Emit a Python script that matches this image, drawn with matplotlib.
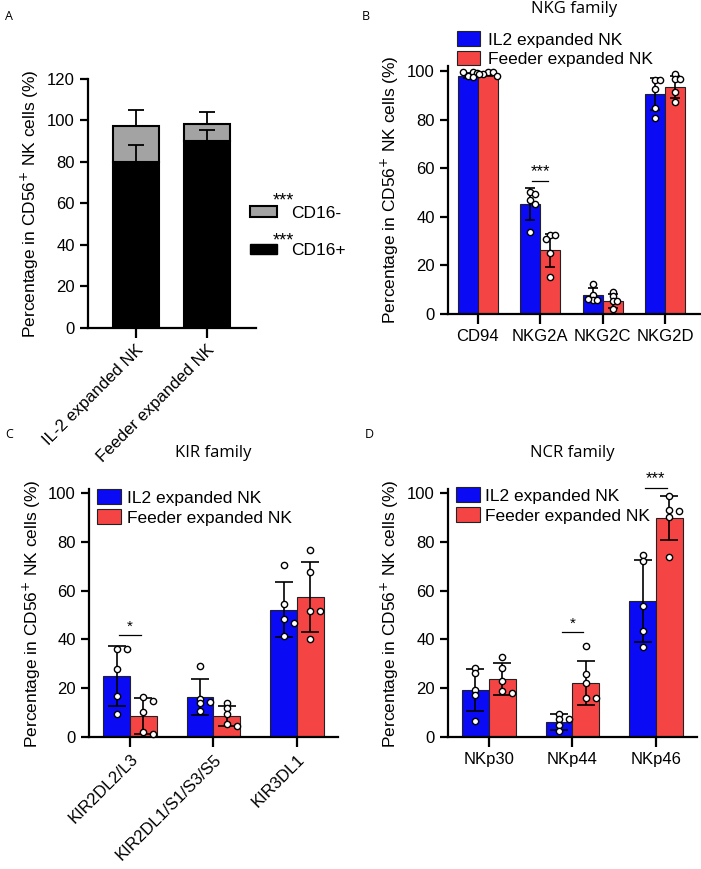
import numpy as np
import matplotlib.pyplot as plt
from matplotlib.patches import Patch

plt.rcParams['font.family'] = ['Liberation Sans', 'DejaVu Sans']
plt.rcParams['font.size'] = 12

# ---- panel A: CD16 split ----
a_groups = ['IL-2 expanded NK', 'Feeder expanded NK']
a_cd16pos = [80.0, 90.0]
a_cd16neg = [17.4, 8.3]
a_err_pos = [8.0, 5.5]
a_err_tot = [7.5, 5.8]

# ---- panel B: NKG family ----
b_cats = ['CD94', 'NKG2A', 'NKG2C', 'NKG2D']
b_il2_mean = [98.0, 45.2, 7.8, 90.5]
b_il2_sd = [1.0, 6.6, 2.7, 6.5]
b_fed_mean = [98.5, 26.2, 5.3, 93.3]
b_fed_sd = [0.8, 6.8, 2.9, 4.5]
b_il2_pts = [[98.0, 99.5, 99.5, 99.0, 97.5],
             [50.0, 49.2, 46.9, 45.3, 33.9],
             [12.4, 7.9, 5.9, 5.9, 6.2],
             [96.4, 96.4, 92.7, 84.7, 80.6]]
b_fed_pts = [[99.5, 99.5, 98.8, 97.8, 98.6],
             [32.3, 32.3, 30.9, 25.0, 15.2],
             [9.2, 7.3, 5.2, 5.2, 2.1],
             [98.6, 96.6, 96.6, 91.4, 87.3]]

# ---- panel C: KIR family ----
c_cats = ['KIR2DL2/L3', 'KIR2DL1/S1/S3/S5', 'KIR3DL1']
c_il2_mean = [25.0, 16.4, 52.2]
c_il2_sd = [12.2, 7.4, 11.3]
c_fed_mean = [8.6, 8.5, 57.4]
c_fed_sd = [7.3, 4.1, 14.5]
c_il2_pts = [[36.2, 36.2, 27.9, 16.7, 9.6],
             [29.2, 15.7, 14.3, 13.9, 10.5],
             [70.6, 54.4, 48.2, 46.7, 41.4]]
c_fed_pts = [[16.4, 14.8, 10.2, 1.9, 1.1],
             [14.1, 11.9, 9.6, 5.2, 4.4],
             [76.8, 67.6, 51.5, 51.5, 40.0]]

# ---- panel D: NCR family ----
d_cats = ['NKp30', 'NKp44', 'NKp46']
d_il2_mean = [19.1, 6.1, 55.9]
d_il2_sd = [8.6, 3.2, 16.8]
d_fed_mean = [23.9, 22.3, 89.8]
d_fed_sd = [6.6, 9.0, 9.1]
d_il2_pts = [[28.3, 26.2, 19.4, 17.3, 6.6],
             [9.6, 7.4, 7.4, 4.8, 2.3],
             [74.5, 72.0, 53.7, 43.4, 36.9]]
d_fed_pts = [[32.8, 28.4, 22.9, 18.9, 18.0],
             [37.4, 25.7, 22.1, 15.8, 15.8],
             [98.6, 93.0, 92.5, 90.2, 73.9]]

# significance marks: (category index, y, label)
b_sig = [(1, 54.9, '***')]
c_sig = [(0, 41.9, '*')]
d_sig = [(1, 43.0, '*'), (2, 102.2, '***')]

BLUE = '#0a0af5'
RED = '#f54444'
ylab = 'Percentage in CD56$^{+}$ NK cells (%)'


def style_axes(ax):
    for s in ['top', 'right']:
        ax.spines[s].set_visible(False)
    for s in ['left', 'bottom']:
        ax.spines[s].set_linewidth(1.6)
    ax.tick_params(width=1.6, length=6, labelsize=12)


def swarm(vals, xc, xstep, ystep):
    # simple beeswarm: spread points that would overlap
    placed = []
    xs = []
    for v in vals:
        for k in [0, 1, -1, 2, -2, 3, -3]:
            x = xc + k * xstep
            if all((abs(x - px) / xstep) ** 2 + ((v - py) / ystep) ** 2 >= 0.95 for px, py in placed):
                break
        placed.append((x, v))
        xs.append(x)
    return xs


def grouped(ax, cats, m1, s1, m2, s2, p1, p2, bw, capsize, xstep, ystep):
    x = np.arange(len(cats))
    ax.bar(x - bw / 2, m1, bw, color=BLUE, edgecolor='#222222', linewidth=0.8,
           label='IL2 expanded NK', zorder=2)
    ax.bar(x + bw / 2, m2, bw, color=RED, edgecolor='#222222', linewidth=0.8,
           label='Feeder expanded NK', zorder=2)
    ax.errorbar(x - bw / 2, m1, yerr=s1, fmt='none', ecolor='black', elinewidth=1.2,
                capsize=capsize, capthick=1.2, zorder=3)
    ax.errorbar(x + bw / 2, m2, yerr=s2, fmt='none', ecolor='black', elinewidth=1.2,
                capsize=capsize, capthick=1.2, zorder=3)
    for i in range(len(cats)):
        for pts, xc in [(p1[i], x[i] - bw / 2), (p2[i], x[i] + bw / 2)]:
            xs = swarm(pts, xc, xstep, ystep)
            ax.plot(xs, pts, 'o', ms=4.5, mfc='white', mec='black', mew=1.0,
                    zorder=4, clip_on=False)
    ax.set_xticks(x)
    return x


def sig(ax, marks, bw):
    for i, y, lab in marks:
        ax.plot([i - 0.4 * bw, i + 0.4 * bw], [y, y], color='black', lw=0.9, clip_on=False)
        fs = 12 if lab == '***' else 11
        ax.text(i, y + 0.6, lab, ha='center', va='bottom', fontsize=fs, clip_on=False)


fig = plt.figure(figsize=(7.01, 8.69), dpi=100)

# ---------- A ----------
axA = fig.add_axes([0.1255, 0.6226, 0.2397, 0.2865])
xa = np.arange(len(a_groups))
bwa = 0.65
axA.bar(xa, a_cd16pos, bwa, color='black', edgecolor='black', linewidth=1.5, zorder=2)
axA.bar(xa, a_cd16neg, bwa, bottom=a_cd16pos, color='#a3a3a3', edgecolor='black',
        linewidth=1.5, zorder=2)
axA.errorbar(xa, a_cd16pos, yerr=[np.zeros(2), a_err_pos], fmt='none', ecolor='black',
             elinewidth=1.3, capsize=6, capthick=1.3, zorder=3)
tot = np.array(a_cd16pos) + np.array(a_cd16neg)
axA.errorbar(xa, tot, yerr=[np.zeros(2), a_err_tot], fmt='none', ecolor='black',
             elinewidth=1.3, capsize=6, capthick=1.3, zorder=3)
axA.set_xlim(-0.676, 1.69)
axA.set_ylim(0, 120)
axA.set_yticks(range(0, 121, 20))
axA.set_xticks(xa)
axA.set_xticklabels(a_groups, rotation=45, ha='right', rotation_mode='anchor')
axA.set_ylabel(ylab, fontsize=12.5)
style_axes(axA)
axA.tick_params(axis='x', length=7)
hA = [Patch(facecolor='#a3a3a3', edgecolor='black', linewidth=1.5),
      Patch(facecolor='black', edgecolor='black')]
axA.legend(hA, ['CD16-', 'CD16+'], loc='center left', bbox_to_anchor=(0.964, 0.386),
           frameon=False, borderpad=0, borderaxespad=0, handlelength=1.55,
           handleheight=0.55, handletextpad=0.84, labelspacing=1.3, fontsize=12.5)
axA.text(1.16, 0.51, '***', transform=axA.transAxes, ha='center', va='center', fontsize=13)
axA.text(1.16, 0.35, '***', transform=axA.transAxes, ha='center', va='center', fontsize=13)

# ---------- B ----------
axB = fig.add_axes([0.639, 0.6387, 0.3595, 0.2853])
bwb = 0.32
grouped(axB, b_cats, b_il2_mean, b_il2_sd, b_fed_mean, b_fed_sd, b_il2_pts, b_fed_pts,
        bwb, 3.3, 0.075, 1.8)
axB.set_xlim(-0.48, 3.56)
axB.set_ylim(0, 102)
axB.set_yticks(range(0, 101, 20))
axB.set_xticklabels(b_cats)
axB.set_ylabel(ylab, fontsize=12.5)
style_axes(axB)
axB.tick_params(axis='x', length=7)
sig(axB, b_sig, bwb)
axB.legend(loc='upper left', bbox_to_anchor=(0.036, 1.14), frameon=False, borderpad=0,
           borderaxespad=0, handlelength=1.3, handleheight=0.9, handletextpad=0.5,
           labelspacing=0.2, fontsize=12.5)
axB.text(0.5, 1.231, 'NKG family', transform=axB.transAxes, ha='center', va='center',
         fontsize=12, family='Open Sans')

# ---------- C ----------
axC = fig.add_axes([0.127, 0.1519, 0.355, 0.285])
bwc = 0.32
grouped(axC, c_cats, c_il2_mean, c_il2_sd, c_fed_mean, c_fed_sd, c_il2_pts, c_fed_pts,
        bwc, 6.5, 0.12, 1.8)
axC.set_xlim(-0.49, 2.49)
axC.set_ylim(0, 101.5)
axC.set_yticks(range(0, 101, 20))
axC.set_xticklabels(c_cats, rotation=45, ha='right', rotation_mode='anchor')
axC.set_ylabel(ylab, fontsize=12.5)
style_axes(axC)
axC.tick_params(axis='x', length=7)
sig(axC, c_sig, bwc)
axC.legend(loc='upper left', bbox_to_anchor=(0.032, 1.0), frameon=False, borderpad=0,
           borderaxespad=0, handlelength=1.4, handleheight=0.95, handletextpad=0.3,
           labelspacing=0.2, fontsize=12.5)
axC.text(0.5, 1.146, 'KIR family', transform=axC.transAxes, ha='center', va='center',
         fontsize=12, family='Open Sans')

# ---------- D ----------
axD = fig.add_axes([0.639, 0.1519, 0.355, 0.285])
grouped(axD, d_cats, d_il2_mean, d_il2_sd, d_fed_mean, d_fed_sd, d_il2_pts, d_fed_pts,
        bwc, 6.5, 0.12, 1.8)
axD.set_xlim(-0.49, 2.49)
axD.set_ylim(0, 101.5)
axD.set_yticks(range(0, 101, 20))
axD.set_xticklabels(d_cats)
axD.set_ylabel(ylab, fontsize=12.5)
style_axes(axD)
axD.tick_params(axis='x', length=7)
sig(axD, d_sig, bwc)
axD.legend(loc='upper left', bbox_to_anchor=(0.032, 1.008), frameon=False, borderpad=0,
           borderaxespad=0, handlelength=1.4, handleheight=0.95, handletextpad=0.3,
           labelspacing=0.2, fontsize=12.5)
axD.text(0.5, 1.146, 'NCR family', transform=axD.transAxes, ha='center', va='center',
         fontsize=12, family='Open Sans')

# panel letters
for lab, x, y in [('A', 5, 16), ('B', 362, 16), ('C', 5, 434), ('D', 365, 434)]:
    fig.text(x / 701, 1 - y / 869, lab, fontsize=9, family='Open Sans', va='center')

fig.savefig('out.png', dpi=100)
